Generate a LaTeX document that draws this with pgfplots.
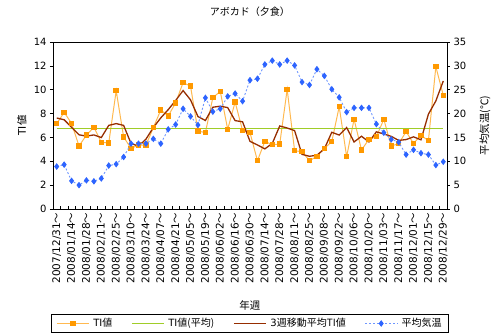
\documentclass[border=0pt]{standalone}
\usepackage{fontspec}
\setmainfont{DejaVu Sans}
\newfontfamily\cjk{Noto Sans CJK JP}
\usepackage{pgfplots}
\usepackage{pgfplotstable}
\pgfplotsset{compat=1.18}
\definecolor{tiorange}{RGB}{255,153,0}
\definecolor{tiline}{RGB}{255,185,80}
\definecolor{avggreen}{RGB}{160,205,40}
\definecolor{mared}{RGB}{150,45,0}
\definecolor{tblue}{RGB}{45,100,255}
\definecolor{tblueline}{RGB}{110,150,255}
\newcommand\wv{{\cjk ～}}
\pgfplotstableread{
i ti ma temp
0 7.15 7.63 8.9
1 8.10 7.48 9.3
2 7.18 6.85 5.9
3 5.28 6.22 5.0
4 6.20 6.11 6.0
5 6.85 6.21 5.8
6 5.59 5.99 6.4
7 5.53 7.01 9.1
8 9.92 7.16 9.4
9 6.03 7.01 10.9
10 5.08 5.49 13.7
11 5.36 5.27 13.7
12 5.36 5.85 13.7
13 6.82 6.83 14.7
14 8.30 7.64 13.7
15 7.80 8.33 16.7
16 8.90 9.10 17.7
17 10.60 9.93 21.0
18 10.30 9.15 19.4
19 6.54 7.75 17.6
20 6.40 7.42 23.3
21 9.33 8.53 20.4
22 9.86 8.62 21.0
23 6.68 8.50 23.6
24 8.97 7.41 24.2
25 6.57 7.31 22.6
26 6.40 5.67 27.0
27 4.05 5.37 27.3
28 5.67 5.04 30.3
29 5.39 5.50 31.1
30 5.45 6.96 30.3
31 10.03 6.79 31.1
32 4.89 6.57 30.1
33 4.80 4.58 26.6
34 4.05 4.42 26.0
35 4.41 4.51 29.3
36 5.08 5.04 27.9
37 5.64 6.43 25.1
38 8.58 6.20 23.4
39 4.39 6.83 20.3
40 7.52 5.62 21.2
41 4.95 6.10 21.2
42 5.84 5.62 21.2
43 6.06 6.47 17.8
44 7.52 6.29 16.0
45 5.28 6.09 14.6
46 5.48 5.75 14.0
47 6.48 5.82 11.4
48 5.50 6.05 12.4
49 6.18 5.80 11.7
50 5.73 7.95 11.4
51 11.93 9.06 9.2
52 9.53 10.73 9.9
}\data
\begin{document}
\begin{tikzpicture}
\useasboundingbox (-53bp,-126bp) rectangle (447bp,209bp);
\begin{axis}[
  scale only axis, width=394bp, height=167bp,
  xmin=-0.5, xmax=52.5, ymin=0, ymax=14,
  axis y line*=left,
  axis line style={black, line width=0.8pt},
  xtick={0,2,...,52},
  xticklabels={2007/12/31\wv,2008/01/14\wv,2008/01/28\wv,2008/02/11\wv,2008/02/25\wv,2008/03/10\wv,2008/03/24\wv,2008/04/07\wv,2008/04/21\wv,2008/05/05\wv,2008/05/19\wv,2008/06/02\wv,2008/06/16\wv,2008/06/30\wv,2008/07/14\wv,2008/07/28\wv,2008/08/11\wv,2008/08/25\wv,2008/09/08\wv,2008/09/22\wv,2008/10/06\wv,2008/10/20\wv,2008/11/03\wv,2008/11/17\wv,2008/12/01\wv,2008/12/15\wv,2008/12/29\wv},
  minor xtick={-0.5,0.5,...,52.5},
  major x tick style={draw=none},
  minor x tick style={black, line width=0.6pt},
  minor tick length=3bp,
  xtick align=inside, xtick pos=bottom,
  ytick={0,2,...,14}, ytick align=outside,
  major tick length=3bp,
  y tick style={black, line width=0.6pt},
  xticklabel style={rotate=90, anchor=east, font=\fontsize{10.5bp}{12bp}\selectfont},
  yticklabel style={font=\fontsize{10bp}{12bp}\selectfont},
  /pgf/number format/assume math mode=true,
  title={\cjk{アボカド（夕食）}},
  title style={at={(axis description cs:0.5,1.1437)}, anchor=center, font=\fontsize{10bp}{12bp}\selectfont},
  xlabel={\cjk{年週}},
  xlabel style={at={(axis description cs:0.5,-0.5749)}, anchor=center, font=\fontsize{10.5bp}{12bp}\selectfont},
  ylabel={TI\cjk{値}},
  ylabel style={at={(axis description cs:-0.0787,0.5)}, anchor=center, font=\fontsize{10.5bp}{12bp}\selectfont},
  clip=false,
]
\addplot[tiline, line width=1pt, mark=square*, mark size=2.2bp, mark options={fill=tiorange, draw=tiorange, solid}] table[x=i,y=ti]{\data};
\addplot[avggreen, line width=1pt] coordinates {(0,6.75) (52,6.75)};
\addplot[mared, line width=1.3pt] table[x=i,y=ma]{\data};
\end{axis}
\begin{axis}[
  scale only axis, width=394bp, height=167bp,
  xmin=-0.5, xmax=52.5, ymin=0, ymax=35,
  axis x line=none, axis y line*=right,
  axis line style={black, line width=0.8pt},
  ytick={0,5,...,35}, ytick align=outside, major tick length=3bp,
  y tick style={black, line width=0.6pt},
  yticklabel style={font=\fontsize{10bp}{12bp}\selectfont},
  /pgf/number format/assume math mode=true,
  ylabel={\cjk{平均気温(℃)}},
  ylabel style={at={(axis description cs:1.0964,0.5)}, anchor=center, rotate=0, font=\fontsize{10.5bp}{12bp}\selectfont},
  legend columns=4,
  legend image code/.code={\draw[mark repeat=2,mark phase=2,#1] plot coordinates {(0bp,0bp) (16bp,0bp) (32bp,0bp)};},
  legend style={at={(axis description cs:0.5,-0.6856)}, anchor=center, draw=black, line width=0.8pt,
    font=\fontsize{10bp}{12bp}\selectfont, inner ysep=2bp, inner xsep=5bp,
    /tikz/every even column/.append style={column sep=17bp},
    /tikz/every odd column/.append style={column sep=2bp}},
  clip=false,
]
\addlegendimage{tiline, line width=1pt, mark=square*, mark size=2.2bp, mark options={fill=tiorange, draw=tiorange, solid}}
\addlegendentry{TI\cjk{値}}
\addlegendimage{avggreen, line width=1pt}
\addlegendentry{TI\cjk{値(平均)}}
\addlegendimage{mared, line width=1.3pt}
\addlegendentry{3\cjk{週移動平均}TI\cjk{値}}
\addplot[tblueline, line width=0.9pt, dash pattern=on 2pt off 2pt, mark=diamond*, mark size=2.6bp, mark options={solid, fill=tblue, draw=tblue}] table[x=i,y=temp]{\data};
\addlegendentry{\cjk{平均気温}}
\end{axis}
\end{tikzpicture}
\end{document}
